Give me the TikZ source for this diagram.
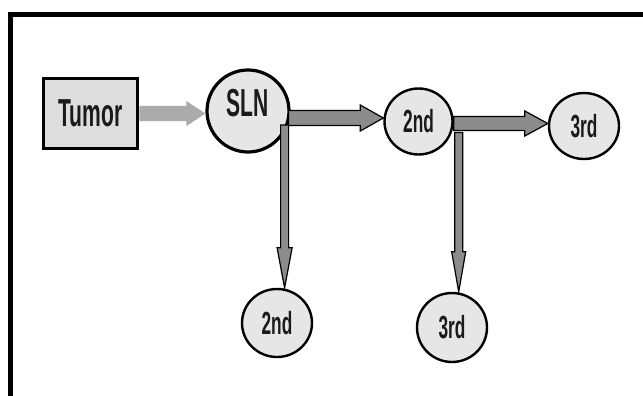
\documentclass[tikz,border=0pt]{standalone}
\usepackage{fontspec}
\newfontfamily\condfont[FakeStretch=0.54]{Liberation Sans}
\usetikzlibrary{shapes.geometric,calc}
\definecolor{boxfill}{HTML}{DDDDDD}
\definecolor{nodefill}{HTML}{E6E6E6}
\definecolor{lightarrow}{HTML}{ABABAB}
\definecolor{darkarrow}{HTML}{8C8C8C}
\definecolor{inkcol}{HTML}{1A1A1A}
\tikzset{
  bigtext/.style={font=\condfont\bfseries\fontsize{39}{39}\selectfont, text=inkcol},
  smalltext/.style={font=\condfont\bfseries\fontsize{32}{32}\selectfont, text=inkcol},
  tumorbox/.style={rectangle, draw=black, line width=3.5pt, fill=boxfill, minimum width=94pt, minimum height=70pt, inner sep=0pt, bigtext},
  slnnode/.style={circle, draw=black, line width=3.2pt, fill=nodefill, minimum size=82pt, inner sep=0pt},
  lymph/.style={ellipse, draw=black, line width=2.4pt, fill=nodefill, inner sep=0pt, smalltext},
  lightfat/.style={fill=lightarrow, draw=none},
  darkfat/.style={fill=darkarrow, draw=black, line width=1.2pt, line join=miter},
  framepen/.style={draw=black, line width=4.6pt, line join=miter}
}
% horizontal fat arrow: #1 style, #2 start, #3 end, #4 shaft half, #5 head half, #6 head length
\newcommand\FatRight[6]{%
  \path[#1] let \p1=(#2), \p2=(#3) in
    (\x1,{\y2+#4pt}) -- ({\x2-#6pt},{\y2+#4pt}) -- ({\x2-#6pt},{\y2+#5pt}) -- (\x2,\y2)
    -- ({\x2-#6pt},{\y2-#5pt}) -- ({\x2-#6pt},{\y2-#4pt}) -- (\x1,{\y2-#4pt}) -- cycle;}
% vertical downward fat arrow
\newcommand\FatDown[6]{%
  \path[#1] let \p1=(#2), \p2=(#3) in
    ({\x2-#4pt},\y1) -- ({\x2-#4pt},{\y2+#6pt}) -- ({\x2-#5pt},{\y2+#6pt}) -- (\x2,\y2)
    -- ({\x2+#5pt},{\y2+#6pt}) -- ({\x2+#4pt},{\y2+#6pt}) -- ({\x2+#4pt},\y1) -- cycle;}
\begin{document}
\begin{tikzpicture}[x=1pt,y=-1pt]
\useasboundingbox (0,0) rectangle (643,396);
\fill[white] (0,0) rectangle (643,396);
% frame
\draw[framepen] (10.5,398) -- (10.5,14.5) -- (645,14.5);
% nodes
\node[tumorbox] (tumor) at (90.5,113.5) {Tumor};
\node[slnnode, label={[bigtext, yshift=8pt]center:SLN}] (sln) at (248,111) {};
\node[lymph, minimum width=68pt, minimum height=66pt] (n2t) at (418.5,121.5) {2nd};
\node[lymph, minimum width=70pt, minimum height=66pt] (n3t) at (584,126) {3rd};
\node[lymph, minimum width=70pt, minimum height=68pt] (n2b) at (277,323) {2nd};
\node[lymph, minimum width=70pt, minimum height=69pt] (n3b) at (452,327.5) {3rd};
% helper coordinates
\coordinate (s1) at ($(sln.east)+(-2,7)$);
\coordinate (e1) at (s1 -| n2t.west);
\coordinate (s2) at ($(n2t.east)+(0,2)$);
\coordinate (e2) at (s2 -| n3t.west);
\coordinate (v1) at ($(sln.east)+(-6,14)$);
\coordinate (w1) at (v1 |- n2b.north);
\coordinate (v2) at ($(n2t.east)+(5,11)$);
\coordinate (w2) at (v2 |- n3b.north);
% connectors
\FatRight{lightfat}{tumor.east}{tumor.east -| sln.west}{7.5}{12.5}{19}
\FatDown{darkfat}{v1}{w1}{4}{7.5}{40}
\FatRight{darkfat}{s1}{e1}{7.5}{13}{23}
\FatDown{darkfat}{v2}{w2}{4}{7}{40}
\FatRight{darkfat}{s2}{e2}{7}{12.5}{23}
\end{tikzpicture}
\end{document}
